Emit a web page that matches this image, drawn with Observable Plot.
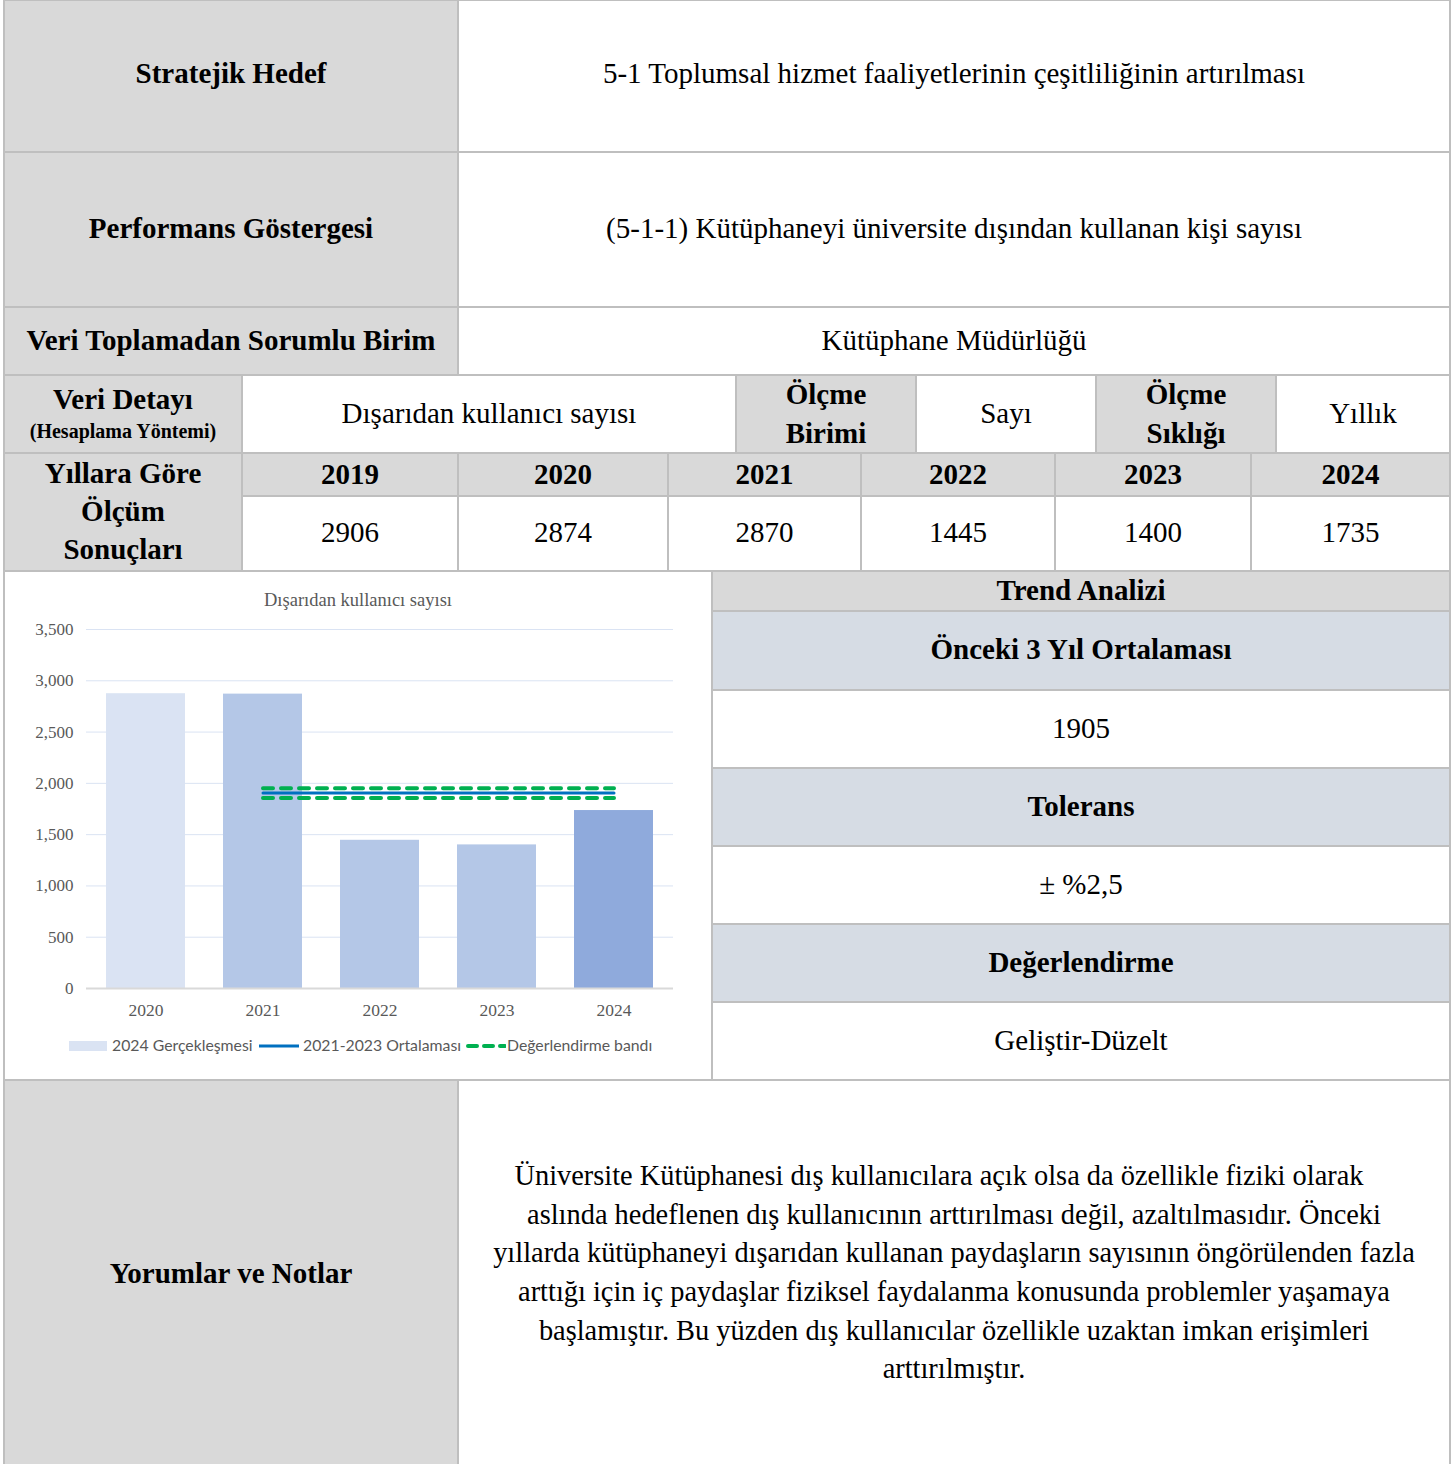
<!DOCTYPE html>
<html><head><meta charset="utf-8">
<script src="https://cdn.jsdelivr.net/npm/d3@7"></script>
<script src="https://cdn.jsdelivr.net/npm/@observablehq/plot@0.6"></script>
<style>
body{margin:0;background:#fff;}
#page{position:relative;width:1452px;height:1464px;overflow:hidden;font-family:"Liberation Serif","Times New Roman",serif;color:#000;}
.c{position:absolute;box-sizing:border-box;border:2px solid #bfbfbf;display:flex;flex-direction:column;align-items:center;justify-content:center;text-align:center;font-size:29px;line-height:39px;background:#fff;}
.b{font-weight:bold}
.g{background:#d9d9d9}
.bl{background:#d6dce4}
.lg{position:absolute;font-family:Lato,"Open Sans",sans-serif;font-size:15.8px;color:#595959;white-space:nowrap;line-height:18px;}
</style></head><body><div id="page"></div>
<script>
// ---- data ----
const tableYears = ["2019","2020","2021","2022","2023","2024"];
const tableValues = [2906,2874,2870,1445,1400,1735];
const chartYears = ["2020","2021","2022","2023","2024"];
const chartValues = [2874,2870,1445,1400,1735];
const barColors = ["#dae3f3","#b4c7e7","#b4c7e7","#b4c7e7","#8faadc"];
const avgYears = ["2021","2024"];
const avgValue = 1905;
const bandUpper = 1953;
const bandLower = 1857;
const yTicks = [0,500,1000,1500,2000,2500,3000,3500];
const chartTitle = "Dışarıdan kullanıcı sayısı";
const legendLabels = ["2024 Gerçekleşmesi","2021-2023 Ortalaması","Değerlendirme bandı"];
const commentLines = [
  "Üniversite Kütüphanesi dış kullanıcılara açık olsa da özellikle fiziki olarak",
  "aslında hedeflenen dış kullanıcının arttırılması değil, azaltılmasıdır. Önceki",
  "yıllarda kütüphaneyi dışarıdan kullanan paydaşların sayısının öngörülenden fazla",
  "arttığı için iç paydaşlar fiziksel faydalanma konusunda problemler yaşamaya",
  "başlamıştır. Bu yüzden dış kullanıcılar özellikle uzaktan imkan erişimleri",
  "arttırılmıştır."
];

const page = document.getElementById("page");
function cell(x1,y1,x2,y2,html,cls,style){
  const d=document.createElement("div");
  d.className="c "+(cls||"");
  d.style.left=(x1-1)+"px"; d.style.top=(y1-1)+"px";
  d.style.width=(x2-x1+2)+"px"; d.style.height=(y2-y1+2)+"px";
  if(style) d.style.cssText+=style;
  d.innerHTML=html;
  page.appendChild(d);
  return d;
}
const R=1450;
cell(4,0,458,152,"Stratejik Hedef","b g","padding-bottom:5px;");
cell(458,0,R,152,"5-1 Toplumsal hizmet faaliyetlerinin çeşitliliğinin artırılması","","padding-bottom:5px;");
cell(4,152,458,307,"Performans Göstergesi","b g","padding-bottom:2px;");
cell(458,152,R,307,"(5-1-1) Kütüphaneyi üniversite dışından kullanan kişi sayısı","","padding-bottom:2px;");
cell(4,307,458,375,"Veri Toplamadan Sorumlu Birim","b g","padding-bottom:2px;");
cell(458,307,R,375,"Kütüphane Müdürlüğü","","padding-bottom:2px;");
cell(4,375,242,453,"<div style='line-height:36px'>Veri Detayı</div><div style='font-size:20px;line-height:28px'>(Hesaplama Yöntemi)</div>","b g","padding-bottom:2px;");
cell(242,375,736,453,"Dışarıdan kullanıcı sayısı","","padding-bottom:2px;");
cell(736,375,916,453,"<div>Ölçme</div><div>Birimi</div>","b g");
cell(916,375,1096,453,"Sayı","","padding-bottom:2px;");
cell(1096,375,1276,453,"<div>Ölçme</div><div>Sıklığı</div>","b g");
cell(1276,375,R,453,"Yıllık","","padding-bottom:2px;");
cell(4,453,242,571,"<div style='line-height:38px'>Yıllara Göre</div><div style='line-height:38px'>Ölçüm</div><div style='line-height:38px'>Sonuçları</div>","b g","padding-bottom:2px;");
const colX=[242,458,668,861,1055,1251,R];
tableYears.forEach((y,i)=>{
  cell(colX[i],453,colX[i+1],496,y,"b g","padding-bottom:1px;");
  cell(colX[i],496,colX[i+1],571,String(tableValues[i]),"","padding-bottom:2px;");
});
// chart cell
const chartCell = cell(4,571,712,1080,"","");
// right panel
cell(712,571,R,611,"Trend Analizi","b g","padding-bottom:2px;");
cell(712,611,R,690,"Önceki 3 Yıl Ortalaması","b bl","padding-bottom:2px;");
cell(712,690,R,768,String(avgValue),"","padding-bottom:2px;");
cell(712,768,R,846,"Tolerans","b bl","padding-bottom:2px;");
cell(712,846,R,924,"± %2,5","","padding-bottom:2px;");
cell(712,924,R,1002,"Değerlendirme","b bl","padding-bottom:2px;");
cell(712,1002,R,1080,"Geliştir-Düzelt","","padding-bottom:2px;");
cell(4,1080,458,1466,"Yorumlar ve Notlar","b g");
cell(458,1080,R,1466,commentLines.map((l,i)=>"<div style='white-space:nowrap;line-height:38.6px;font-size:28.4px;"+(i===0?"padding-right:30px;":"")+"'>"+l+"</div>").join(""));

// chart title
const t=document.createElement("div");
t.textContent=chartTitle;
t.style.cssText="position:absolute;left:4px;width:708px;top:589px;text-align:center;font-family:'Liberation Serif',serif;font-size:18.5px;color:#595959;line-height:22px;";
page.appendChild(t);

// chart
const bars = chartYears.map((y,i)=>({year:y,value:chartValues[i],color:barColors[i]}));
const avgLine = avgYears.map(y=>({year:y,value:avgValue}));
const upLine = avgYears.map(y=>({year:y,value:bandUpper}));
const loLine = avgYears.map(y=>({year:y,value:bandLower}));
const svg = Plot.plot({
  width:708, height:415,
  marginLeft:82, marginRight:39, marginTop:14, marginBottom:42,
  style:{fontFamily:"'Liberation Serif',serif", fontSize:"17px", color:"#595959", background:"transparent", overflow:"visible"},
  x:{domain:chartYears, paddingInner:0.325, paddingOuter:0.1625},
  y:{domain:[0,3500]},
  color:{type:"identity"},
  marks:[
    Plot.gridY(yTicks.filter(d=>d>0),{stroke:"#dae3f3",strokeOpacity:1,strokeWidth:1}),
    Plot.barY(bars,{x:"year",y:"value",fill:"color"}),
    Plot.ruleY([0],{stroke:"#d9d9d9",strokeWidth:2}),
    Plot.lineY(upLine,{x:"year",y:"value",stroke:"#00b050",strokeWidth:4,strokeDasharray:"10,8",strokeLinecap:"round"}),
    Plot.lineY(loLine,{x:"year",y:"value",stroke:"#00b050",strokeWidth:4,strokeDasharray:"10,8",strokeLinecap:"round"}),
    Plot.lineY(avgLine,{x:"year",y:"value",stroke:"#0070c0",strokeWidth:3}),
    Plot.axisY(yTicks,{tickSize:0,tickPadding:13,tickFormat:d3.format(","),label:null,fontSize:17}),
    Plot.axisX({tickSize:0,tickPadding:15,label:null,fontSize:17.5})
  ]
});
svg.style.position="absolute";
svg.style.left="4px";
svg.style.top="615px";
page.appendChild(svg);

// legend
function lg(x,html){
  const d=document.createElement("div");
  d.className="lg"; d.style.left=x+"px"; d.style.top="1036px";
  d.innerHTML=html; page.appendChild(d);
}
lg(69,"<span style='display:inline-block;width:38px;height:10px;background:"+barColors[0]+";vertical-align:middle;margin-right:5px;position:relative;top:-1px'></span>"+legendLabels[0]);
lg(259,"<svg width='40' height='10' style='vertical-align:middle;margin-right:4px;position:relative;top:-1px'><line x1='0' x2='40' y1='5' y2='5' stroke='#0070c0' stroke-width='3'/></svg>"+legendLabels[1]);
lg(465,"<svg width='41' height='10' style='vertical-align:middle;margin-right:1px;position:relative;top:-1px'><line x1='3' x2='40' y1='5' y2='5' stroke='#00b050' stroke-width='4' stroke-dasharray='9,7' stroke-linecap='round'/></svg>"+legendLabels[2]);
</script></body></html>
